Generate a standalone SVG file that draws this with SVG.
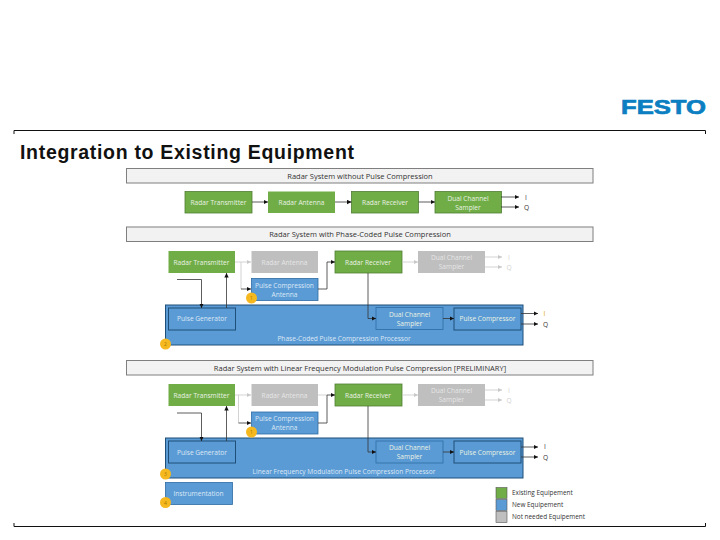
<svg xmlns="http://www.w3.org/2000/svg" width="720" height="540" viewBox="0 0 720 540">
<style>
text{font-family:"Open Sans","Noto Sans",sans-serif;font-size:6.6px;text-anchor:middle}
.w{fill:#eaf2e4}
.b{fill:#dbe8f5}
.g{fill:#e6e6e6}
.k{fill:#333}
.t{font-size:7.500px}
.l{text-anchor:start;font-size:6.400px;fill:#333}
.ex{fill:#70ad47;stroke:#507e32;stroke-width:.8}
.exn{fill:#70ad47}
.nw{fill:#5b9bd5;stroke:#2e6ca4;stroke-width:.8}
.nwd{fill:#5b9bd5;stroke:#1f4e79;stroke-width:1}
.nn{fill:#bfbfbf}
.ban{fill:#f2f2f2;stroke:#7f7f7f;stroke-width:1}
.dot{fill:#f5b81f}
.dt{fill:#a87800;font-size:5px}
.c{fill:none;stroke:#333;stroke-width:.8}
.cg{fill:none;stroke:#c8c8c8;stroke-width:.8}
.a{marker-end:url(#ah)}
.ag{marker-end:url(#ahg)}
</style>
<defs>
<marker id="ah" markerWidth="5" markerHeight="5" refX="4.500" refY="2.500" orient="auto" markerUnits="userSpaceOnUse"><path d="M0 .3L4.500 2.500L0 4.700z" fill="#111"/></marker>
<marker id="ahg" markerWidth="5" markerHeight="5" refX="4.500" refY="2.500" orient="auto" markerUnits="userSpaceOnUse"><path d="M0 .3L4.500 2.500L0 4.700z" fill="#c8c8c8"/></marker>
</defs>
<rect width="720" height="540" fill="#fff"/>
<g id="logo"><text x="663.500" y="114" style="font-family:'Liberation Sans',sans-serif;font-weight:700;font-size:20px;fill:#0b7fc1;stroke:#0b7fc1;stroke-width:.7" textLength="85" lengthAdjust="spacingAndGlyphs">FESTO</text></g>
<g id="frame" fill="none" stroke="#111" stroke-width="1"><path d="M14 134V130.500H705.500V134"/><path d="M14 523V526.500H705.500V523"/></g>
<text x="20" y="159" style="font-family:'Liberation Sans',sans-serif;font-weight:700;font-size:19.500px;text-anchor:start;fill:#111" textLength="334" lengthAdjust="spacing">Integration to Existing Equipment</text>

<g id="banner1"><rect class="ban" x="126.500" y="168.500" width="466.500" height="14.500"/><text class="k t" x="360" y="178.500">Radar System without Pulse Compression</text></g>
<g id="r1-tx"><rect class="ex" x="185" y="191.500" width="67" height="21.500"/><text class="w" x="218.500" y="204.500">Radar Transmitter</text></g>
<g id="r1-ant"><rect class="exn" x="268" y="191.500" width="67" height="21.500"/><text class="w" x="301.500" y="204.500">Radar Antenna</text></g>
<g id="r1-rx"><rect class="ex" x="351.500" y="191.500" width="67" height="21.500"/><text class="w" x="385" y="204.500">Radar Receiver</text></g>
<g id="r1-s"><rect class="ex" x="435" y="191.500" width="66.500" height="21.500"/><text class="w" x="468" y="200.500">Dual Channel</text><text class="w" x="468" y="209.500">Sampler</text></g>
<text class="k" x="526" y="199.500">I</text><text class="k" x="526.500" y="210">Q</text>

<g id="banner2"><rect class="ban" x="126.500" y="227" width="466.500" height="14.500"/><text class="k t" x="360" y="236.500">Radar System with Phase-Coded Pulse Compression</text></g>
<g id="r2-tx"><rect class="exn" x="168.500" y="251" width="66.500" height="22"/><text class="w" x="201.500" y="264.500">Radar Transmitter</text></g>
<g id="r2-ant"><rect class="nn" x="251.500" y="251" width="66.500" height="22"/><text class="g" x="284.500" y="264.500">Radar Antenna</text></g>
<g id="r2-pca"><rect class="nw" x="251.500" y="278.500" width="66.500" height="22"/><text class="b" x="284.500" y="287.500">Pulse Compression</text><text class="b" x="284.500" y="296.500">Antenna</text></g>
<g id="r2-rx"><rect class="ex" x="335" y="251" width="67" height="22"/><text class="w" x="368" y="264.500">Radar Receiver</text></g>
<g id="r2-s"><rect class="nn" x="418" y="251" width="67" height="22"/><text class="g" x="451.500" y="259.500">Dual Channel</text><text class="g" x="451.500" y="268.500">Sampler</text></g>
<text x="509" y="260" fill="#d0d0d0">I</text><text x="509" y="270" fill="#d0d0d0">Q</text>
<g id="r2-proc"><rect class="nwd" x="165.500" y="305" width="357.500" height="40" stroke-width=".8"/><text class="b" x="344" y="340.500">Phase-Coded Pulse Compression Processor</text></g>
<g id="r2-gen"><rect class="nwd" x="168.500" y="308" width="67" height="22"/><text class="b" x="202" y="321">Pulse Generator</text></g>
<g id="r2-ds"><rect class="nw" x="376" y="307.500" width="67" height="22"/><text class="w" x="409.500" y="316.500">Dual Channel</text><text class="w" x="409.500" y="325.500">Sampler</text></g>
<g id="r2-pc"><rect class="nwd" x="454" y="308" width="67" height="22"/><text class="w" x="487.500" y="321">Pulse Compressor</text></g>
<text x="544.500" y="315.500" fill="#d8a800">I</text><text class="k" x="545.500" y="326.500">Q</text>
<g id="b1"><circle class="dot" cx="251.500" cy="298" r="5.500"/><text class="dt" x="251.500" y="300">1</text></g>
<g id="b2"><circle class="dot" cx="165.500" cy="344" r="5.500"/><text class="dt" x="165.500" y="346">2</text></g>

<g id="banner3"><rect class="ban" x="126.500" y="360.500" width="466.500" height="14.500"/><text class="k t" x="360" y="370.500">Radar System with Linear Frequency Modulation Pulse Compression [PRELIMINARY]</text></g>
<g id="r3-tx"><rect class="exn" x="168.500" y="384" width="66.500" height="22"/><text class="w" x="201.500" y="397.500">Radar Transmitter</text></g>
<g id="r3-ant"><rect class="nn" x="251.500" y="384" width="66.500" height="22"/><text class="g" x="284.500" y="397.500">Radar Antenna</text></g>
<g id="r3-pca"><rect class="nw" x="251.500" y="412" width="66.500" height="22"/><text class="b" x="284.500" y="421">Pulse Compression</text><text class="b" x="284.500" y="430">Antenna</text></g>
<g id="r3-rx"><rect class="ex" x="335" y="384" width="67" height="22"/><text class="w" x="368" y="397.500">Radar Receiver</text></g>
<g id="r3-s"><rect class="nn" x="418" y="384" width="67" height="22"/><text class="g" x="451.500" y="392.500">Dual Channel</text><text class="g" x="451.500" y="401.500">Sampler</text></g>
<text x="509" y="393" fill="#d0d0d0">I</text><text x="509" y="403" fill="#d0d0d0">Q</text>
<g id="r3-proc"><rect class="nwd" x="165.500" y="438" width="357.500" height="40" stroke-width=".8"/><text class="b" x="344" y="474">Linear Frequency Modulation Pulse Compression Processor</text></g>
<g id="r3-gen"><rect class="nwd" x="168.500" y="441" width="67" height="22"/><text class="b" x="202" y="454.500">Pulse Generator</text></g>
<g id="r3-ds"><rect class="nw" x="376" y="441" width="67" height="22"/><text class="w" x="409.500" y="450">Dual Channel</text><text class="w" x="409.500" y="459">Sampler</text></g>
<g id="r3-pc"><rect class="nwd" x="454" y="441" width="67" height="22"/><text class="w" x="487.500" y="454.500">Pulse Compressor</text></g>
<text class="k" x="545" y="449">I</text><text class="k" x="545.500" y="459.500">Q</text>
<g id="b1b"><circle class="dot" cx="251.500" cy="432" r="5.500"/><text class="dt" x="251.500" y="434">1</text></g>
<g id="b3"><circle class="dot" cx="165.500" cy="474" r="5.500"/><text class="dt" x="165.500" y="476">3</text></g>
<g id="r3-inst"><rect class="nw" x="165.500" y="482.500" width="67" height="22"/><text class="b" x="198.500" y="495.500">Instrumentation</text></g>
<g id="b4"><circle class="dot" cx="165.500" cy="502.500" r="5.500"/><text class="dt" x="165.500" y="504.500">4</text></g>

<g id="legend">
<rect x="496" y="487.500" width="11" height="11" fill="#70ad47" stroke="#555" stroke-width=".6"/>
<rect x="496" y="499.500" width="11" height="11" fill="#5b9bd5" stroke="#555" stroke-width=".6"/>
<rect x="496" y="511.500" width="11" height="11" fill="#bfbfbf" stroke="#555" stroke-width=".6"/>
<text class="l" x="512" y="495">Existing Equipement</text>
<text class="l" x="512" y="507">New Equipement</text>
<text class="l" x="512" y="519">Not needed Equipement</text>
</g>

<g id="connectors">
<path class="c a" d="M252 202H268"/><path class="c a" d="M335 202H351.500"/><path class="c a" d="M418.500 202H435"/>
<path class="c a" d="M501 197H519"/><path class="c a" d="M501 207H519"/>
<path class="cg ag" d="M235 262H251"/><path class="cg ag" d="M402 262H418"/><path class="cg ag" d="M485 257H502"/><path class="cg ag" d="M485 267H502"/>
<path class="cg" d="M241 262V289"/><path class="c a" d="M241 289H251"/>
<path class="c a" d="M318 289H327V262H335"/>
<path class="c a" d="M177 279.500H201.500V308"/><path class="c a" d="M226.500 308V273"/>
<path class="c a" d="M368 273V318.500H376"/><path class="c a" d="M443 318.500H454"/>
<path class="c a" d="M521 313.500H538"/><path class="c a" d="M521 324H538"/>
<path class="cg ag" d="M235 395H251"/><path class="cg" d="M318 395H327"/><path class="cg ag" d="M402 395H418"/><path class="cg ag" d="M485 390H502"/><path class="cg ag" d="M485 400H502"/>
<path class="cg" d="M238.500 395V423"/><path class="c a" d="M238.500 423H251"/>
<path class="c a" d="M318 423H327V395H335"/>
<path class="c a" d="M177 413H201.500V441"/><path class="c a" d="M226.500 441V406"/>
<path class="c a" d="M368 406V452H376"/><path class="c a" d="M443 452H454"/>
<path class="c a" d="M521 447H538"/><path class="c a" d="M521 457H538"/>
</g>
</svg>
